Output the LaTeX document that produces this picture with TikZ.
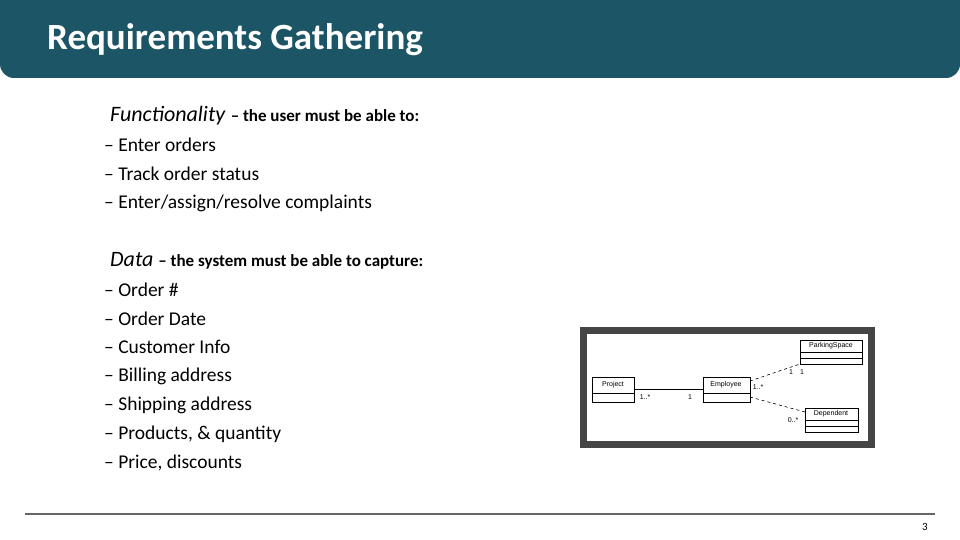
\documentclass[tikz,border=0pt]{standalone}
\usepackage{fontspec}
\setmainfont{Carlito}
\setsansfont{Liberation Sans}
\definecolor{teal}{HTML}{1B5566}
\definecolor{frame}{HTML}{454545}
\begin{document}
\begin{tikzpicture}[x=1pt,y=-1pt,
  item/.style={anchor=west,font=\fontsize{19.5}{19.5}\selectfont,inner sep=0},
  umlbox/.style={draw,line width=0.6pt,minimum width=#1,anchor=north west,inner sep=0},
  lab/.style={font=\sffamily\fontsize{7}{7}\selectfont,inner sep=0}]
\useasboundingbox (0,0) rectangle (960,540);
\fill[teal,rounded corners=14pt] (0,-20) rectangle (960,78);
\node[anchor=west,text=white,font=\bfseries\fontsize{37}{37}\selectfont,inner sep=0] (title) at (47,40) {Requirements Gathering};
\node[anchor=west,inner sep=0,font=\fontsize{22}{22}\selectfont] (f) at (110,116) {\textit{Functionality} {\fontsize{17}{17}\selectfont\bfseries -- the user must be able to:}};
\foreach \y/\t in {145/{Enter orders},174/{Track order status},203/{Enter/assign/resolve complaints},290/{Order \#},319/{Order Date},347/{Customer Info},376/{Billing address},405/{Shipping address},434/{Products, \& quantity},463/{Price, discounts}}
  \node[item] at (104,\y) {-- \t};
\node[anchor=west,inner sep=0,font=\fontsize{22}{22}\selectfont] (d) at (110,261) {\textit{Data} {\fontsize{17}{17}\selectfont\bfseries -- the system must be able to capture:}};
% UML image
\draw[frame,line width=7pt,fill=white] (583.5,330.5) rectangle (871.5,444.5);
\begin{scope}[line width=0.6pt]
\draw (592,377) rectangle (634,402) (592,393)--(634,393);
\node[lab] (proj) at (613,385) {Project};
\draw (703,377) rectangle (750,402) (703,393)--(750,393);
\node[lab] (emp) at (726,385) {Employee};
\draw (800,340) rectangle (862,364) (800,352)--(862,352) (800,358)--(862,358);
\node[lab] (park) at (831,346) {ParkingSpace};
\draw (805,408) rectangle (858,432) (805,420)--(858,420) (805,426)--(858,426);
\node[lab] (dep) at (831,414) {Dependent};
\coordinate (pr) at (634,389); \coordinate (el) at (703,389);
\draw (pr) -- (el);
\coordinate (e1) at (750,381); \coordinate (p1) at (800,364);
\coordinate (e2) at (750,397); \coordinate (d1) at (805,412);
\draw[dashed] (e1) -- (p1);
\draw[dashed] (e2) -- (d1);
\end{scope}
\node[lab] at (645,397) {1..*};
\node[lab] at (690,397) {1};
\node[lab] at (758,387) {1..*};
\node[lab] at (791,372) {1};
\node[lab] at (802,372) {1};
\node[lab] at (793,420) {0..*};
% footer
\draw[gray!80!black,line width=1.2pt] (25,514) -- (935,514);
\node[font=\fontsize{11}{11}\selectfont,inner sep=0] (pg) at (925,527) {3};
\end{tikzpicture}
\end{document}
